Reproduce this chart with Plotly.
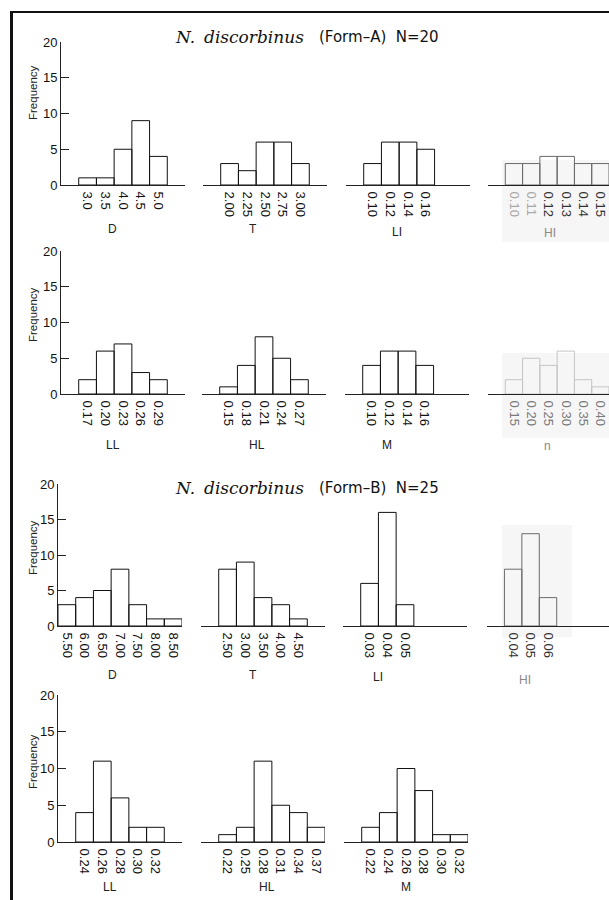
import plotly.graph_objects as go

W, H = 609, 900

# ---------------- data: bin centres, tick labels and frequencies ----------------
# N. discorbinus (Form-A), N=20
a_D_bins = [3.0, 3.5, 4.0, 4.5, 5.0]
a_D_ticks = ["3.0", "3.5", "4.0", "4.5", "5.0"]
a_D_freq = [1, 1, 5, 9, 4]

a_T_bins = [2.00, 2.25, 2.50, 2.75, 3.00]
a_T_ticks = ["2.00", "2.25", "2.50", "2.75", "3.00"]
a_T_freq = [3, 2, 6, 6, 3]

a_LI_bins = [0.10, 0.12, 0.14, 0.16]
a_LI_ticks = ["0.10", "0.12", "0.14", "0.16"]
a_LI_freq = [3, 6, 6, 5]

a_HI_bins = [0.10, 0.11, 0.12, 0.13, 0.14, 0.15]
a_HI_ticks = ["0.10", "0.11", "0.12", "0.13", "0.14", "0.15"]
a_HI_freq = [3, 3, 4, 4, 3, 3]

a_LL_bins = [0.17, 0.20, 0.23, 0.26, 0.29]
a_LL_ticks = ["0.17", "0.20", "0.23", "0.26", "0.29"]
a_LL_freq = [2, 6, 7, 3, 2]

a_HL_bins = [0.15, 0.18, 0.21, 0.24, 0.27]
a_HL_ticks = ["0.15", "0.18", "0.21", "0.24", "0.27"]
a_HL_freq = [1, 4, 8, 5, 2]

a_M_bins = [0.10, 0.12, 0.14, 0.16]
a_M_ticks = ["0.10", "0.12", "0.14", "0.16"]
a_M_freq = [4, 6, 6, 4]

a_n_bins = [0.15, 0.20, 0.25, 0.30, 0.35, 0.40]
a_n_ticks = ["0.15", "0.20", "0.25", "0.30", "0.35", "0.40"]
a_n_freq = [2, 5, 4, 6, 2, 1]

# N. discorbinus (Form-B), N=25
b_D_bins = [5.50, 6.00, 6.50, 7.00, 7.50, 8.00, 8.50]
b_D_ticks = ["5.50", "6.00", "6.50", "7.00", "7.50", "8.00", "8.50"]
b_D_freq = [3, 4, 5, 8, 3, 1, 1]

b_T_bins = [2.50, 3.00, 3.50, 4.00, 4.50]
b_T_ticks = ["2.50", "3.00", "3.50", "4.00", "4.50"]
b_T_freq = [8, 9, 4, 3, 1]

b_LI_bins = [0.03, 0.04, 0.05]
b_LI_ticks = ["0.03", "0.04", "0.05"]
b_LI_freq = [6, 16, 3]

b_HI_bins = [0.04, 0.05, 0.06]
b_HI_ticks = ["0.04", "0.05", "0.06"]
b_HI_freq = [8, 13, 4]

b_LL_bins = [0.24, 0.26, 0.28, 0.30, 0.32]
b_LL_ticks = ["0.24", "0.26", "0.28", "0.30", "0.32"]
b_LL_freq = [4, 11, 6, 2, 2]

b_HL_bins = [0.22, 0.25, 0.28, 0.31, 0.34, 0.37]
b_HL_ticks = ["0.22", "0.25", "0.28", "0.31", "0.34", "0.37"]
b_HL_freq = [1, 2, 11, 5, 4, 2]

b_M_bins = [0.22, 0.24, 0.26, 0.28, 0.30, 0.32]
b_M_ticks = ["0.22", "0.24", "0.26", "0.28", "0.30", "0.32"]
b_M_freq = [2, 4, 10, 7, 1, 1]

y_ticks = [0, 5, 10, 15, 20]

# ---------------- layout geometry (pixels) ----------------
# (y of 20, y of 0) for each row of panels
row_px = [(42, 185), (251, 394), (484, 626), (695, 842)]
col_px = [[61, 203, 346, 488], [61, 202, 345, 488], [58, 201, 343, 487], [58, 201, 344]]
PANEL_W = 124

def px_x(p):
    return p / W

def px_y(p):
    return 1 - p / H

def faded(labels, n_faint, colour="#a8a8a8"):
    """Grey out the first n_faint tick labels."""
    return [f'<span style="color:{colour}">{t}</span>' if j < n_faint else t
            for j, t in enumerate(labels)]

# panel: (bins, ticks, freq, row, col, lead bins, span bins, name, name xy, line colour, tick colour)
panels = [
    (a_D_bins, a_D_ticks, a_D_freq, 0, 0, 1.5, 7, "D", (112, 229), "#111", "#111"),
    (a_T_bins, a_T_ticks, a_T_freq, 0, 1, 1.5, 7, "T", (253, 229), "#111", "#111"),
    (a_LI_bins, a_LI_ticks, a_LI_freq, 0, 2, 1.5, 7, "LI", (397, 232), "#111", "#111"),
    (a_HI_bins, faded(a_HI_ticks, 2), a_HI_freq, 0, 3, 1.5, 7, "HI", (550, 233), "#6a6a6a", "#333"),
    (a_LL_bins, a_LL_ticks, a_LL_freq, 1, 0, 1.5, 7, "LL", (113, 445), "#111", "#111"),
    (a_HL_bins, a_HL_ticks, a_HL_freq, 1, 1, 1.5, 7, "HL", (257, 445), "#111", "#111"),
    (a_M_bins, a_M_ticks, a_M_freq, 1, 2, 1.5, 7, "M", (387, 445), "#111", "#111"),
    (a_n_bins, a_n_ticks, a_n_freq, 1, 3, 1.5, 7, "n", (547, 446), "#c4c4c4", "#7a7a7a"),
    (b_D_bins, b_D_ticks, b_D_freq, 2, 0, 0.5, 7, "D", (112, 675), "#111", "#111"),
    (b_T_bins, b_T_ticks, b_T_freq, 2, 1, 1.5, 7, "T", (253, 675), "#111", "#111"),
    (b_LI_bins, b_LI_ticks, b_LI_freq, 2, 2, 1.5, 7, "LI", (378, 677), "#111", "#111"),
    (b_HI_bins, b_HI_ticks, b_HI_freq, 2, 3, 1.5, 7, "HI", (525, 680), "#6a6a6a", "#333"),
    (b_LL_bins, b_LL_ticks, b_LL_freq, 3, 0, 1.5, 7, "LL", (110, 887), "#111", "#111"),
    (b_HL_bins, b_HL_ticks, b_HL_freq, 3, 1, 1.5, 7, "HL", (267, 887), "#111", "#111"),
    (b_M_bins, b_M_ticks, b_M_freq, 3, 2, 1.5, 7, "M", (406, 887), "#111", "#111"),
]

TICK_FONT = dict(family="Liberation Sans, Arial, sans-serif", size=13, color="#111")

fig = go.Figure()
layout = dict(
    width=W, height=H,
    margin=dict(l=0, r=0, t=0, b=0),
    paper_bgcolor="white",
    plot_bgcolor="rgba(0,0,0,0)",
    showlegend=False,
    template="none",
    annotations=[],
    shapes=[],
)

for i, (bins, ticks, freq, r, c, lead, span, name, name_xy, lc, tc) in enumerate(panels):
    k = i + 1
    xa = "x" if k == 1 else f"x{k}"
    ya = "y" if k == 1 else f"y{k}"
    w = bins[1] - bins[0]
    x0 = bins[0] - lead * w
    x1 = x0 + span * w
    left = col_px[r][c]
    right = min(left + PANEL_W, W)
    top, base = row_px[r]

    fig.add_trace(go.Bar(
        x=bins, y=freq, width=w,
        marker=dict(color="rgba(255,255,255,0)", line=dict(color=lc, width=1)),
        xaxis=xa, yaxis=ya, hoverinfo="skip",
    ))

    layout["xaxis" if k == 1 else f"xaxis{k}"] = dict(
        domain=[px_x(left), px_x(right)], anchor=ya, range=[x0, x1],
        showline=True, linecolor="#222", linewidth=1,
        ticks="", tickvals=bins, ticktext=ticks, tickangle=90,
        ticklabelstandoff=3, ticklabeloverflow="allow",
        tickfont=dict(TICK_FONT, color=tc),
        showgrid=False, zeroline=False, automargin=False, fixedrange=True,
    )
    first_col = c == 0
    layout["yaxis" if k == 1 else f"yaxis{k}"] = dict(
        domain=[px_y(base), px_y(top)], anchor=xa, range=[0, 20],
        showline=first_col, linecolor="#222", linewidth=1,
        ticks="inside" if first_col else "", ticklen=8, tickcolor="#222",
        tickvals=y_ticks, showticklabels=first_col,
        tickfont=dict(family="Liberation Sans, Arial, sans-serif", size=13, color="#111"),
        showgrid=False, zeroline=False, automargin=False, fixedrange=True,
    )

    layout["annotations"].append(dict(
        x=px_x(name_xy[0]), y=px_y(name_xy[1]), xref="paper", yref="paper",
        text=name, showarrow=False, xanchor="center", yanchor="middle",
        font=dict(family="Liberation Sans, Arial, sans-serif", size=12,
                  color="#222" if lc == "#111" else "#888"),
    ))

# "Frequency" labels beside each row
for cy in (93, 315, 548, 762):
    layout["annotations"].append(dict(
        x=px_x(33), y=px_y(cy), xref="paper", yref="paper", text="Frequency",
        textangle=-90, showarrow=False, xanchor="center", yanchor="middle",
        font=dict(family="Liberation Sans, Arial, sans-serif", size=11.5, color="#222"),
    ))

# Group headings
for cy, form in ((37, "(Form\u2013A)\u00a0\u00a0N=20"), (488, "(Form\u2013B)\u00a0\u00a0N=25")):
    layout["annotations"] += [
        dict(x=px_x(173), y=px_y(cy), xref="paper", yref="paper", text="<i>N.</i>",
             showarrow=False, xanchor="left", yanchor="middle",
             font=dict(family="DejaVu Serif, serif", size=17, color="#111")),
        dict(x=px_x(202), y=px_y(cy), xref="paper", yref="paper", text="<i>discorbinus</i>",
             showarrow=False, xanchor="left", yanchor="middle",
             font=dict(family="DejaVu Serif, serif", size=17, color="#111")),
        dict(x=px_x(317), y=px_y(cy), xref="paper", yref="paper", text=form,
             showarrow=False, xanchor="left", yanchor="middle",
             font=dict(family="DejaVu Sans, sans-serif", size=15, color="#111")),
    ]

# light inset backgrounds behind the right-hand panels
for (x0, y0, x1, y1) in ((502, 160, 609, 242), (502, 353, 609, 438), (502, 525, 572, 637)):
    layout["shapes"].append(dict(
        type="rect", xref="paper", yref="paper", layer="below",
        x0=px_x(x0), x1=px_x(x1), y0=px_y(y1), y1=px_y(y0),
        fillcolor="#f6f6f6", line=dict(width=0),
    ))

# frame: heavy left rule and top rule
layout["shapes"] += [
    dict(type="line", xref="paper", yref="paper", x0=px_x(11.5), x1=px_x(11.5),
         y0=px_y(11), y1=0, line=dict(color="#111", width=3)),
    dict(type="line", xref="paper", yref="paper", x0=px_x(10), x1=1,
         y0=px_y(12), y1=px_y(12), line=dict(color="#111", width=2)),
]

fig.update_layout(**layout)
fig.write_html("out.html")
